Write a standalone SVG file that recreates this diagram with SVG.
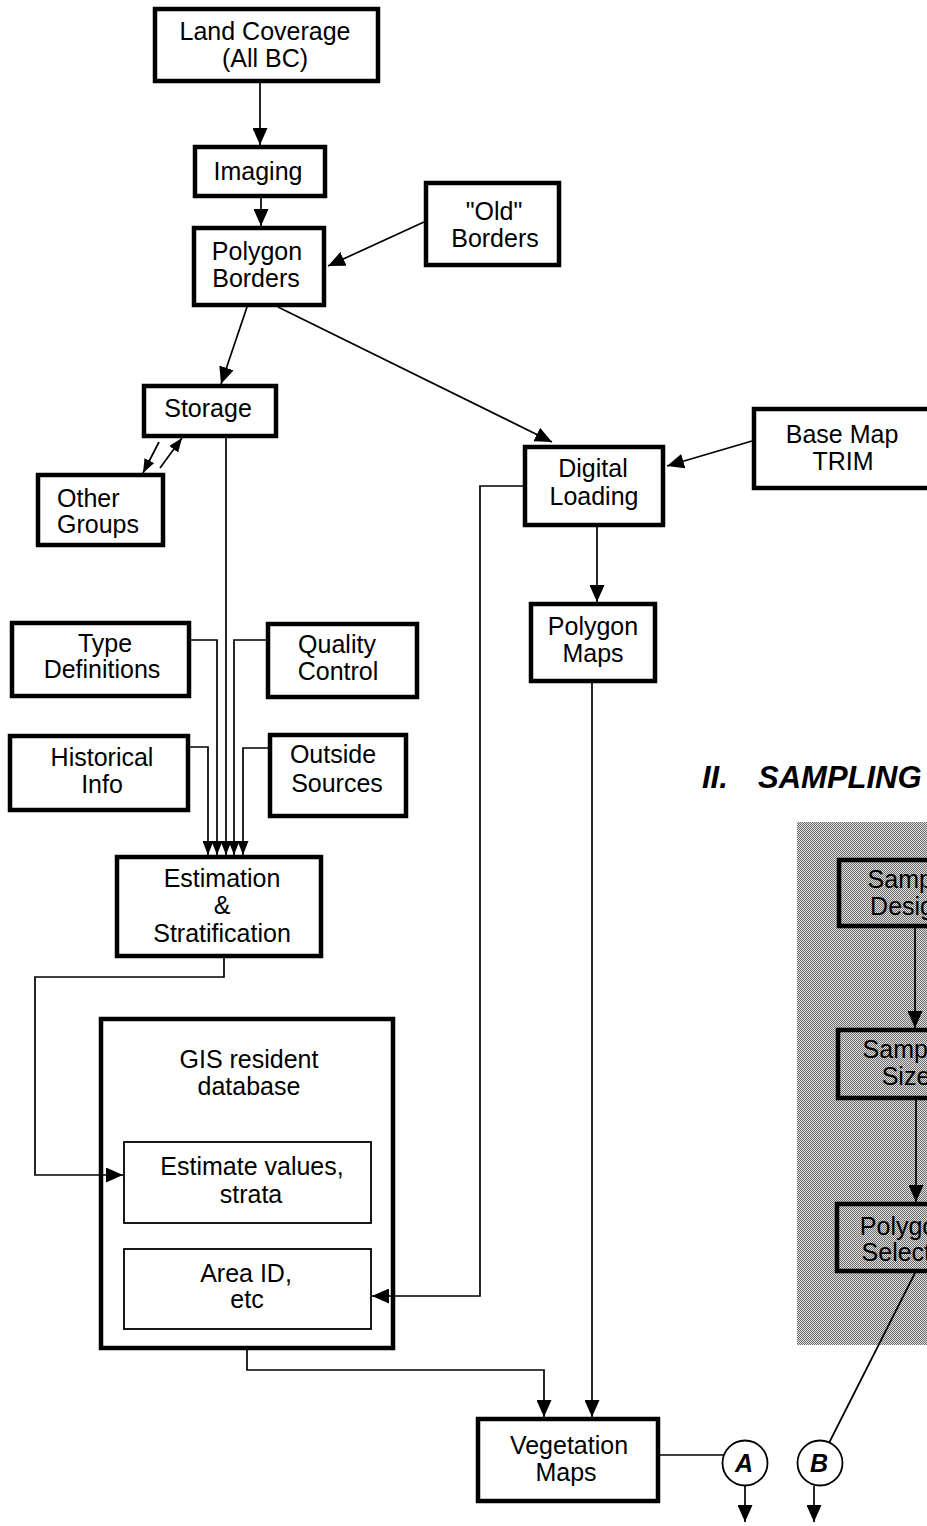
<svg xmlns="http://www.w3.org/2000/svg" width="927" height="1526" viewBox="0 0 927 1526">
<style>
.box{fill:#fff;stroke:#000;stroke-width:4.5}
.tbox{fill:#fff;stroke:#000;stroke-width:1.8}
.sbox{fill:none;stroke:#000;stroke-width:4.5}
text{font-family:"Liberation Sans",Arial,Helvetica,sans-serif;font-size:25px;fill:#000;text-anchor:middle}
.hd{font-weight:bold;font-style:italic;font-size:31px;text-anchor:start}
.ci{font-weight:bold;font-style:italic;font-size:25px}
.ln{fill:none;stroke:#000;stroke-width:1.7}
.circ{fill:#fff;stroke:#000;stroke-width:1.8}
</style>
<defs>
<marker id="ah" markerUnits="userSpaceOnUse" markerWidth="17" markerHeight="15" refX="17" refY="7.5" orient="auto">
<path d="M0,0 L17,7.5 L0,15 z" fill="#000"/>
</marker>
<marker id="as" markerUnits="userSpaceOnUse" markerWidth="14" markerHeight="11" refX="14" refY="5.5" orient="auto">
<path d="M0,0 L14,5.5 L0,11 z" fill="#000"/>
</marker>
<pattern id="dither" patternUnits="userSpaceOnUse" width="2" height="2">
<rect width="2" height="2" fill="#dedede"/>
<rect x="0" y="0" width="1" height="1" fill="#6e6e6e"/>
<rect x="1" y="1" width="1" height="1" fill="#6e6e6e"/>
</pattern>
</defs>
<rect width="927" height="1526" fill="#fff"/>

<g id="sampling-area">
<rect x="797" y="822" width="140" height="523" fill="url(#dither)" shape-rendering="crispEdges"/>
<text class="hd" x="702" y="788">II.</text>
<text class="hd" x="758" y="788">SAMPLING</text>
</g>

<g id="land-coverage"><rect class="box" x="155" y="9" width="223" height="72"/><text x="265" y="40">Land Coverage</text><text x="265" y="67">(All BC)</text></g>
<g id="imaging"><rect class="box" x="195" y="147" width="130" height="49"/><text x="258" y="180">Imaging</text></g>
<g id="polygon-borders"><rect class="box" x="194" y="228" width="130" height="77"/><text x="257" y="260">Polygon</text><text x="256" y="287">Borders</text></g>
<g id="old-borders"><rect class="box" x="426" y="183" width="133" height="82"/><text x="494" y="220">"Old"</text><text x="495" y="247">Borders</text></g>
<g id="storage"><rect class="box" x="144" y="386" width="132" height="50"/><text x="208" y="417">Storage</text></g>
<g id="other-groups"><rect class="box" x="38" y="475" width="125" height="70"/><text x="57" y="507" style="text-anchor:start">Other</text><text x="57" y="533" style="text-anchor:start">Groups</text></g>
<g id="digital-loading"><rect class="box" x="525" y="447" width="138" height="78"/><text x="593" y="477">Digital</text><text x="594" y="505">Loading</text></g>
<g id="base-map"><rect class="box" x="754" y="409" width="180" height="79"/><text x="842" y="443">Base Map</text><text x="843" y="470">TRIM</text></g>
<g id="polygon-maps"><rect class="box" x="531" y="604" width="124" height="77"/><text x="593" y="635">Polygon</text><text x="593" y="662">Maps</text></g>
<g id="type-definitions"><rect class="box" x="12" y="623" width="177" height="73"/><text x="105" y="652">Type</text><text x="102" y="678">Definitions</text></g>
<g id="quality-control"><rect class="box" x="268" y="624" width="149" height="73"/><text x="337" y="653">Quality</text><text x="338" y="680">Control</text></g>
<g id="historical-info"><rect class="box" x="10" y="736" width="178" height="74"/><text x="102" y="766">Historical</text><text x="102" y="793">Info</text></g>
<g id="outside-sources"><rect class="box" x="270" y="735" width="136" height="81"/><text x="333" y="763">Outside</text><text x="337" y="792">Sources</text></g>
<g id="estimation"><rect class="box" x="117" y="857" width="204" height="99"/><text x="222" y="887">Estimation</text><text x="222" y="914">&amp;</text><text x="222" y="942">Stratification</text></g>
<g id="gis-database"><rect class="box" x="101" y="1019" width="292" height="329"/><text x="249" y="1068">GIS resident</text><text x="249" y="1095">database</text>
<g id="estimate-values"><rect class="tbox" x="124" y="1142" width="247" height="81"/><text x="252" y="1175">Estimate values,</text><text x="251" y="1203">strata</text></g>
<g id="area-id"><rect class="tbox" x="124" y="1249" width="247" height="80"/><text x="246" y="1282">Area ID,</text><text x="247" y="1308">etc</text></g>
</g>
<g id="vegetation-maps"><rect class="box" x="478" y="1419" width="180" height="82"/><text x="569" y="1454">Vegetation</text><text x="566" y="1481">Maps</text></g>
<g id="connector-a"><circle class="circ" cx="745" cy="1463" r="22.5"/><text class="ci" x="744" y="1472">A</text></g>
<g id="connector-b"><circle class="circ" cx="820" cy="1463" r="22.5"/><text class="ci" x="819" y="1472">B</text></g>
<g id="sample-design"><rect class="sbox" x="839" y="860" width="150" height="66"/><text x="910" y="888">Sample</text><text x="909" y="915">Design</text></g>
<g id="sample-size"><rect class="sbox" x="838" y="1030" width="150" height="68"/><text x="905" y="1058">Sample</text><text x="906" y="1085">Size</text></g>
<g id="polygon-selection"><rect class="sbox" x="837" y="1204" width="150" height="67"/><text x="905" y="1235">Polygon</text><text x="913" y="1261">Selection</text></g>

<g id="connectors">
<path class="ln" d="M260,83 V145" marker-end="url(#ah)"/>
<path class="ln" d="M261,198 V226" marker-end="url(#ah)"/>
<path class="ln" d="M424,222 L328,266" marker-end="url(#ah)"/>
<path class="ln" d="M247,307 L221,384" marker-end="url(#ah)"/>
<path class="ln" d="M278,307 L552,442" marker-end="url(#ah)"/>
<path class="ln" d="M159,442 L143,473" marker-end="url(#as)"/>
<path class="ln" d="M160,468 L182,438" marker-end="url(#as)"/>
<path class="ln" d="M226,438 V855" marker-end="url(#as)"/>
<path class="ln" d="M191,640 H217 V855" marker-end="url(#as)"/>
<path class="ln" d="M190,747 H208 V855" marker-end="url(#as)"/>
<path class="ln" d="M266,640 H234 V855" marker-end="url(#as)"/>
<path class="ln" d="M268,748 H243 V855" marker-end="url(#as)"/>
<path class="ln" d="M752,441 L667,466" marker-end="url(#ah)"/>
<path class="ln" d="M597,527 V602" marker-end="url(#ah)"/>
<path class="ln" d="M523,486 H480 V1296 H372" marker-end="url(#ah)"/>
<path class="ln" d="M224,958 V977 H35 V1175 H123" marker-end="url(#ah)"/>
<path class="ln" d="M247,1350 V1370 H544 V1417" marker-end="url(#ah)"/>
<path class="ln" d="M592,683 V1417" marker-end="url(#ah)"/>
<path class="ln" d="M660,1455 H724"/>
<path class="ln" d="M745,1486 V1522" marker-end="url(#ah)"/>
<path class="ln" d="M915,1273 L829,1443"/>
<path class="ln" d="M814,1486 V1522" marker-end="url(#ah)"/>
<path class="ln" d="M915,928 V1028" marker-end="url(#ah)"/>
<path class="ln" d="M916,1100 V1202" marker-end="url(#ah)"/>
</g>
</svg>
